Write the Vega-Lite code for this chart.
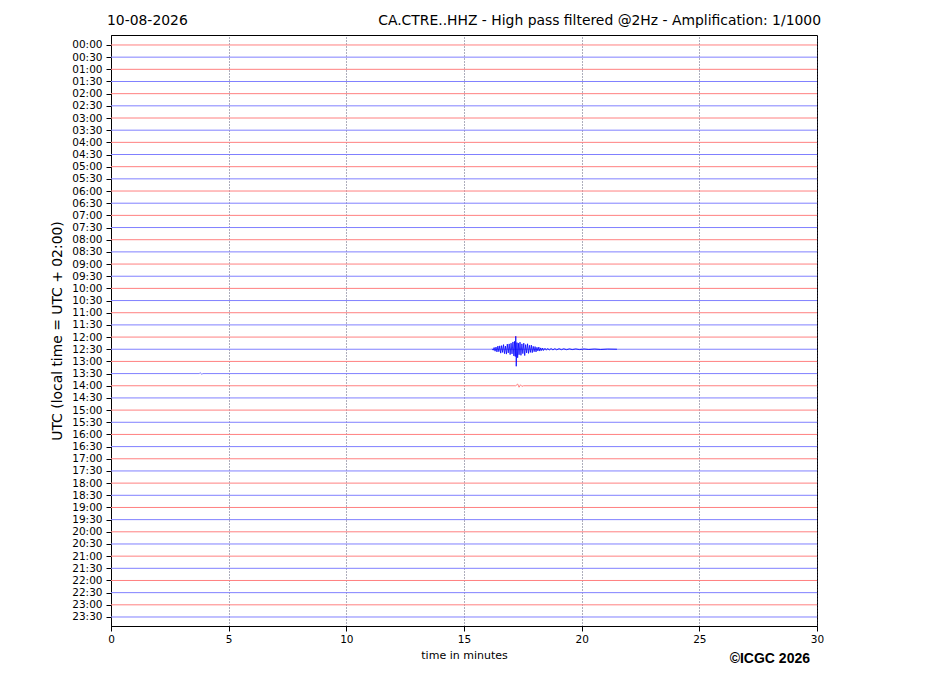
{
  "$schema": "https://vega.github.io/schema/vega-lite/v6.json",
  "autosize": "none",
  "width": 706,
  "height": 591,
  "padding": {"left": 111, "top": 35, "right": 110, "bottom": 70},
  "background": "white",
  "config": {
    "font": "DejaVu Sans",
    "view": {"stroke": "black", "strokeWidth": 1},
    "axis": {"labelOverlap": false, "labelBound": false}
  },
  "datasets": {
    "traces": [
      {"trace": 0, "slot": "00", "t": 0, "y": 0}, {"trace": 0, "slot": "00", "t": 30, "y": 0},
      {"trace": 1, "slot": "30", "t": 0, "y": 1}, {"trace": 1, "slot": "30", "t": 30, "y": 1},
      {"trace": 2, "slot": "00", "t": 0, "y": 2}, {"trace": 2, "slot": "00", "t": 30, "y": 2},
      {"trace": 3, "slot": "30", "t": 0, "y": 3}, {"trace": 3, "slot": "30", "t": 30, "y": 3},
      {"trace": 4, "slot": "00", "t": 0, "y": 4}, {"trace": 4, "slot": "00", "t": 30, "y": 4},
      {"trace": 5, "slot": "30", "t": 0, "y": 5}, {"trace": 5, "slot": "30", "t": 30, "y": 5},
      {"trace": 6, "slot": "00", "t": 0, "y": 6}, {"trace": 6, "slot": "00", "t": 30, "y": 6},
      {"trace": 7, "slot": "30", "t": 0, "y": 7}, {"trace": 7, "slot": "30", "t": 30, "y": 7},
      {"trace": 8, "slot": "00", "t": 0, "y": 8}, {"trace": 8, "slot": "00", "t": 30, "y": 8},
      {"trace": 9, "slot": "30", "t": 0, "y": 9}, {"trace": 9, "slot": "30", "t": 30, "y": 9},
      {"trace": 10, "slot": "00", "t": 0, "y": 10}, {"trace": 10, "slot": "00", "t": 30, "y": 10},
      {"trace": 11, "slot": "30", "t": 0, "y": 11}, {"trace": 11, "slot": "30", "t": 30, "y": 11},
      {"trace": 12, "slot": "00", "t": 0, "y": 12}, {"trace": 12, "slot": "00", "t": 30, "y": 12},
      {"trace": 13, "slot": "30", "t": 0, "y": 13}, {"trace": 13, "slot": "30", "t": 30, "y": 13},
      {"trace": 14, "slot": "00", "t": 0, "y": 14}, {"trace": 14, "slot": "00", "t": 30, "y": 14},
      {"trace": 15, "slot": "30", "t": 0, "y": 15}, {"trace": 15, "slot": "30", "t": 30, "y": 15},
      {"trace": 16, "slot": "00", "t": 0, "y": 16}, {"trace": 16, "slot": "00", "t": 30, "y": 16},
      {"trace": 17, "slot": "30", "t": 0, "y": 17}, {"trace": 17, "slot": "30", "t": 30, "y": 17},
      {"trace": 18, "slot": "00", "t": 0, "y": 18}, {"trace": 18, "slot": "00", "t": 30, "y": 18},
      {"trace": 19, "slot": "30", "t": 0, "y": 19}, {"trace": 19, "slot": "30", "t": 30, "y": 19},
      {"trace": 20, "slot": "00", "t": 0, "y": 20}, {"trace": 20, "slot": "00", "t": 30, "y": 20},
      {"trace": 21, "slot": "30", "t": 0, "y": 21}, {"trace": 21, "slot": "30", "t": 30, "y": 21},
      {"trace": 22, "slot": "00", "t": 0, "y": 22}, {"trace": 22, "slot": "00", "t": 30, "y": 22},
      {"trace": 23, "slot": "30", "t": 0, "y": 23}, {"trace": 23, "slot": "30", "t": 30, "y": 23},
      {"trace": 24, "slot": "00", "t": 0, "y": 24}, {"trace": 24, "slot": "00", "t": 30, "y": 24},
      {"trace": 25, "slot": "30", "t": 0, "y": 25}, {"trace": 25, "slot": "30", "t": 30, "y": 25},
      {"trace": 26, "slot": "00", "t": 0, "y": 26}, {"trace": 26, "slot": "00", "t": 30, "y": 26},
      {"trace": 27, "slot": "30", "t": 0, "y": 27}, {"trace": 27, "slot": "30", "t": 3.75, "y": 27},
      {"trace": 27, "slot": "30", "t": 3.8, "y": 26.93}, {"trace": 27, "slot": "30", "t": 3.85, "y": 27.06},
      {"trace": 27, "slot": "30", "t": 3.9, "y": 27}, {"trace": 27, "slot": "30", "t": 30, "y": 27},
      {"trace": 28, "slot": "00", "t": 0, "y": 28}, {"trace": 28, "slot": "00", "t": 17.2, "y": 28},
      {"trace": 28, "slot": "00", "t": 17.28, "y": 27.86}, {"trace": 28, "slot": "00", "t": 17.34, "y": 28.12},
      {"trace": 28, "slot": "00", "t": 17.4, "y": 27.92}, {"trace": 28, "slot": "00", "t": 17.46, "y": 28.05},
      {"trace": 28, "slot": "00", "t": 17.52, "y": 28}, {"trace": 28, "slot": "00", "t": 30, "y": 28},
      {"trace": 29, "slot": "30", "t": 0, "y": 29}, {"trace": 29, "slot": "30", "t": 30, "y": 29},
      {"trace": 30, "slot": "00", "t": 0, "y": 30}, {"trace": 30, "slot": "00", "t": 30, "y": 30},
      {"trace": 31, "slot": "30", "t": 0, "y": 31}, {"trace": 31, "slot": "30", "t": 30, "y": 31},
      {"trace": 32, "slot": "00", "t": 0, "y": 32}, {"trace": 32, "slot": "00", "t": 30, "y": 32},
      {"trace": 33, "slot": "30", "t": 0, "y": 33}, {"trace": 33, "slot": "30", "t": 30, "y": 33},
      {"trace": 34, "slot": "00", "t": 0, "y": 34}, {"trace": 34, "slot": "00", "t": 30, "y": 34},
      {"trace": 35, "slot": "30", "t": 0, "y": 35}, {"trace": 35, "slot": "30", "t": 30, "y": 35},
      {"trace": 36, "slot": "00", "t": 0, "y": 36}, {"trace": 36, "slot": "00", "t": 30, "y": 36},
      {"trace": 37, "slot": "30", "t": 0, "y": 37}, {"trace": 37, "slot": "30", "t": 30, "y": 37},
      {"trace": 38, "slot": "00", "t": 0, "y": 38}, {"trace": 38, "slot": "00", "t": 30, "y": 38},
      {"trace": 39, "slot": "30", "t": 0, "y": 39}, {"trace": 39, "slot": "30", "t": 30, "y": 39},
      {"trace": 40, "slot": "00", "t": 0, "y": 40}, {"trace": 40, "slot": "00", "t": 30, "y": 40},
      {"trace": 41, "slot": "30", "t": 0, "y": 41}, {"trace": 41, "slot": "30", "t": 30, "y": 41},
      {"trace": 42, "slot": "00", "t": 0, "y": 42}, {"trace": 42, "slot": "00", "t": 30, "y": 42},
      {"trace": 43, "slot": "30", "t": 0, "y": 43}, {"trace": 43, "slot": "30", "t": 30, "y": 43},
      {"trace": 44, "slot": "00", "t": 0, "y": 44}, {"trace": 44, "slot": "00", "t": 30, "y": 44},
      {"trace": 45, "slot": "30", "t": 0, "y": 45}, {"trace": 45, "slot": "30", "t": 30, "y": 45},
      {"trace": 46, "slot": "00", "t": 0, "y": 46}, {"trace": 46, "slot": "00", "t": 30, "y": 46},
      {"trace": 47, "slot": "30", "t": 0, "y": 47}, {"trace": 47, "slot": "30", "t": 30, "y": 47}
    ],
    "event": [
      {"t": 16.20, "y": 24.96}, {"t": 16.24, "y": 25.08}, {"t": 16.28, "y": 24.86}, {"t": 16.32, "y": 25.16},
      {"t": 16.36, "y": 24.82}, {"t": 16.40, "y": 25.22}, {"t": 16.44, "y": 24.74}, {"t": 16.48, "y": 25.2},
      {"t": 16.52, "y": 24.72}, {"t": 16.56, "y": 25.32}, {"t": 16.60, "y": 24.7}, {"t": 16.64, "y": 25.26},
      {"t": 16.68, "y": 24.62}, {"t": 16.72, "y": 25.36}, {"t": 16.76, "y": 24.74}, {"t": 16.80, "y": 25.4},
      {"t": 16.84, "y": 24.58}, {"t": 16.88, "y": 25.3}, {"t": 16.92, "y": 24.56}, {"t": 16.96, "y": 25.44},
      {"t": 17.00, "y": 24.5}, {"t": 17.04, "y": 25.38}, {"t": 17.08, "y": 24.4}, {"t": 17.12, "y": 25.55},
      {"t": 17.15, "y": 24.35}, {"t": 17.18, "y": 25.6}, {"t": 17.20, "y": 23.93}, {"t": 17.22, "y": 26.4},
      {"t": 17.25, "y": 24.45}, {"t": 17.28, "y": 25.7}, {"t": 17.31, "y": 24.5}, {"t": 17.34, "y": 25.45},
      {"t": 17.38, "y": 24.42}, {"t": 17.42, "y": 25.5}, {"t": 17.46, "y": 24.56}, {"t": 17.50, "y": 25.36},
      {"t": 17.54, "y": 24.5}, {"t": 17.58, "y": 25.52}, {"t": 17.62, "y": 24.62}, {"t": 17.66, "y": 25.3},
      {"t": 17.70, "y": 24.55}, {"t": 17.74, "y": 25.34}, {"t": 17.78, "y": 24.68}, {"t": 17.82, "y": 25.26},
      {"t": 17.86, "y": 24.66}, {"t": 17.90, "y": 25.28}, {"t": 17.94, "y": 24.76}, {"t": 17.98, "y": 25.2},
      {"t": 18.02, "y": 24.78}, {"t": 18.06, "y": 25.22}, {"t": 18.10, "y": 24.84}, {"t": 18.14, "y": 25.14},
      {"t": 18.18, "y": 24.82}, {"t": 18.22, "y": 25.15}, {"t": 18.26, "y": 24.89}, {"t": 18.30, "y": 25.11},
      {"t": 18.34, "y": 24.9}, {"t": 18.38, "y": 25.1}, {"t": 18.44, "y": 24.92}, {"t": 18.50, "y": 25.08},
      {"t": 18.56, "y": 24.93}, {"t": 18.62, "y": 25.07}, {"t": 18.70, "y": 24.94}, {"t": 18.78, "y": 25.06},
      {"t": 18.86, "y": 24.95}, {"t": 18.94, "y": 25.05}, {"t": 19.04, "y": 24.95}, {"t": 19.14, "y": 25.04},
      {"t": 19.24, "y": 24.96}, {"t": 19.36, "y": 25.04}, {"t": 19.48, "y": 24.965}, {"t": 19.60, "y": 25.03},
      {"t": 19.75, "y": 24.97}, {"t": 19.90, "y": 25.03}, {"t": 20.10, "y": 24.975}, {"t": 20.30, "y": 25.02},
      {"t": 20.55, "y": 24.98}, {"t": 20.80, "y": 25.02}, {"t": 21.10, "y": 24.985}, {"t": 21.50, "y": 25}
    ],
    "notes": [
      {"label": "10-08-2026", "t": 0, "y": -1.64},
      {"label": "CA.CTRE..HHZ - High pass filtered @2Hz - Amplification: 1/1000", "t": 30, "y": -1.64},
      {"label": "©ICGC 2026", "t": 30, "y": 50.78}
    ]
  },
  "layer": [
    {
      "data": {"name": "traces"},
      "mark": {"type": "line", "strokeWidth": 1, "clip": true},
      "encoding": {
        "x": {
          "field": "t",
          "type": "quantitative",
          "scale": {"domain": [0, 30], "nice": false, "zero": false},
          "axis": {
            "title": "time in minutes",
            "values": [0, 5, 10, 15, 20, 25, 30],
            "tickCount": 7,
            "format": "d",
            "grid": true,
            "gridColor": "#333355",
            "gridDash": [1, 2],
            "gridWidth": 0.8,
            "domainColor": "black",
            "tickColor": "black",
            "tickSize": 5,
            "labelPadding": 3,
            "labelFlush": false,
            "labelFont": "DejaVu Sans",
            "labelFontSize": 10.5,
            "labelColor": "black",
            "titleFont": "DejaVu Sans",
            "titleFontSize": 11,
            "titleFontWeight": "normal",
            "titleColor": "black",
            "titlePadding": 5
          }
        },
        "y": {
          "field": "y",
          "type": "quantitative",
          "scale": {"domain": [-0.82, 47.74], "reverse": true, "nice": false, "zero": false},
          "axis": {
            "title": "UTC (local time = UTC + 02:00)",
            "values": [0, 1, 2, 3, 4, 5, 6, 7, 8, 9, 10, 11, 12, 13, 14, 15, 16, 17, 18, 19, 20, 21, 22, 23, 24, 25, 26, 27, 28, 29, 30, 31, 32, 33, 34, 35, 36, 37, 38, 39, 40, 41, 42, 43, 44, 45, 46, 47],
            "tickCount": 100,
            "labelExpr": "(floor(datum.value / 2) < 10 ? '0' : '') + floor(datum.value / 2) + ':' + (datum.value % 2 == 1 ? '30' : '00')",
            "grid": false,
            "domainColor": "black",
            "tickColor": "black",
            "tickSize": 5,
            "labelPadding": 4,
            "labelFlush": false,
            "labelFont": "DejaVu Sans",
            "labelFontSize": 10.5,
            "labelColor": "black",
            "labelOverlap": false,
            "titleFont": "DejaVu Sans",
            "titleFontSize": 13.9,
            "titleFontWeight": "normal",
            "titleColor": "black",
            "titlePadding": 7
          }
        },
        "detail": {"field": "trace"},
        "color": {
          "field": "slot",
          "type": "nominal",
          "scale": {"domain": ["00", "30"], "range": ["#ff8080", "#8080ff"]},
          "legend": null
        }
      }
    },
    {
      "data": {"name": "event"},
      "mark": {"type": "line", "strokeWidth": 0.8, "color": "#0000ff"},
      "encoding": {
        "x": {"field": "t", "type": "quantitative"},
        "y": {"field": "y", "type": "quantitative"}
      }
    },
    {
      "data": {"name": "notes"},
      "transform": [{"filter": "datum.label == '10-08-2026'"}],
      "mark": {"type": "text", "align": "left", "baseline": "alphabetic", "dx": -4, "font": "DejaVu Sans", "fontSize": 13.9, "color": "black"},
      "encoding": {
        "x": {"field": "t", "type": "quantitative"},
        "y": {"field": "y", "type": "quantitative"},
        "text": {"field": "label"}
      }
    },
    {
      "data": {"name": "notes"},
      "transform": [{"filter": "indexof(datum.label, 'CA.CTRE') == 0"}],
      "mark": {"type": "text", "align": "right", "baseline": "alphabetic", "dx": 4, "font": "DejaVu Sans", "fontSize": 13.9, "color": "black"},
      "encoding": {
        "x": {"field": "t", "type": "quantitative"},
        "y": {"field": "y", "type": "quantitative"},
        "text": {"field": "label"}
      }
    },
    {
      "data": {"name": "notes"},
      "transform": [{"filter": "datum.label == '©ICGC 2026'"}],
      "mark": {"type": "text", "align": "right", "baseline": "alphabetic", "dx": -7, "font": "Liberation Sans", "fontSize": 14, "fontWeight": "bold", "color": "black"},
      "encoding": {
        "x": {"field": "t", "type": "quantitative"},
        "y": {"field": "y", "type": "quantitative"},
        "text": {"field": "label"}
      }
    }
  ]
}
